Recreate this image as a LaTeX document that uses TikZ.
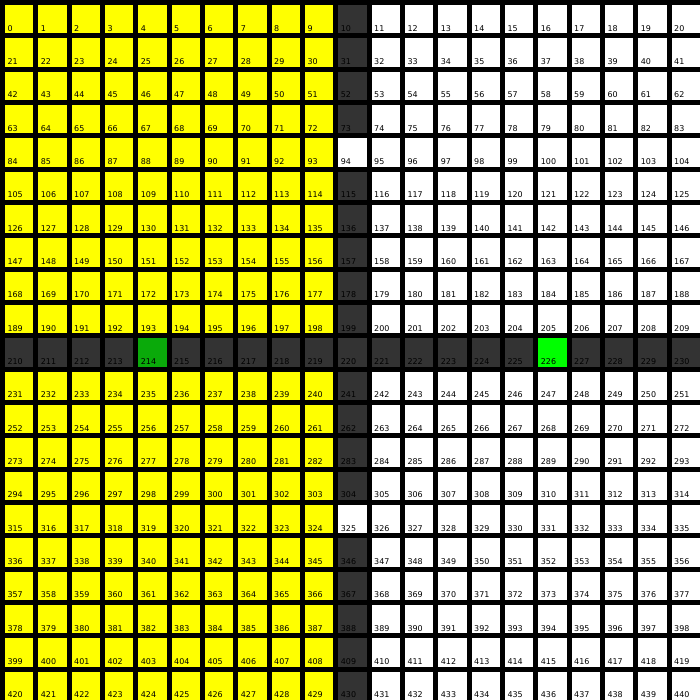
\documentclass[tikz,border=0pt]{standalone}
\usepackage{fontspec}
\setmainfont{DejaVu Sans}
\usetikzlibrary{positioning}

\definecolor{cellyellow}{RGB}{255,255,0}
\definecolor{celldark}{RGB}{51,51,51}
\definecolor{cellgreen}{RGB}{10,170,10}
\definecolor{celllime}{RGB}{0,255,0}

\tikzset{
  cell/.style={minimum size=0.85cm, inner sep=0pt, outer sep=0pt},
  num/.style={font=\fontsize{6.8}{8}\selectfont, inner sep=0pt, anchor=base west}
}

\begin{document}
\begin{tikzpicture}
  % board
  \fill[black] (0,0) rectangle (21,-21);

  % cells
  \foreach \r in {0,...,20} {
    \foreach \c in {0,...,20} {
      \pgfmathtruncatemacro{\n}{21*\r+\c}
      \def\cellcol{white}
      \ifnum\c<10 \def\cellcol{cellyellow}\fi
      \ifnum\c=10 \def\cellcol{celldark}\fi
      \ifnum\n=94 \def\cellcol{white}\fi
      \ifnum\n=325 \def\cellcol{white}\fi
      \ifnum\r=10 \def\cellcol{celldark}\fi
      \ifnum\n=214 \def\cellcol{cellgreen}\fi
      \ifnum\n=226 \def\cellcol{celllime}\fi
      \node[cell, fill=\cellcol] (c\n) at (\c+0.575,-\r-0.575) {};
      \node[num] (t\n) at ([xshift=0.07cm, yshift=0.07cm]c\n.south west) {\n};
    }
  }
\end{tikzpicture}
\end{document}
